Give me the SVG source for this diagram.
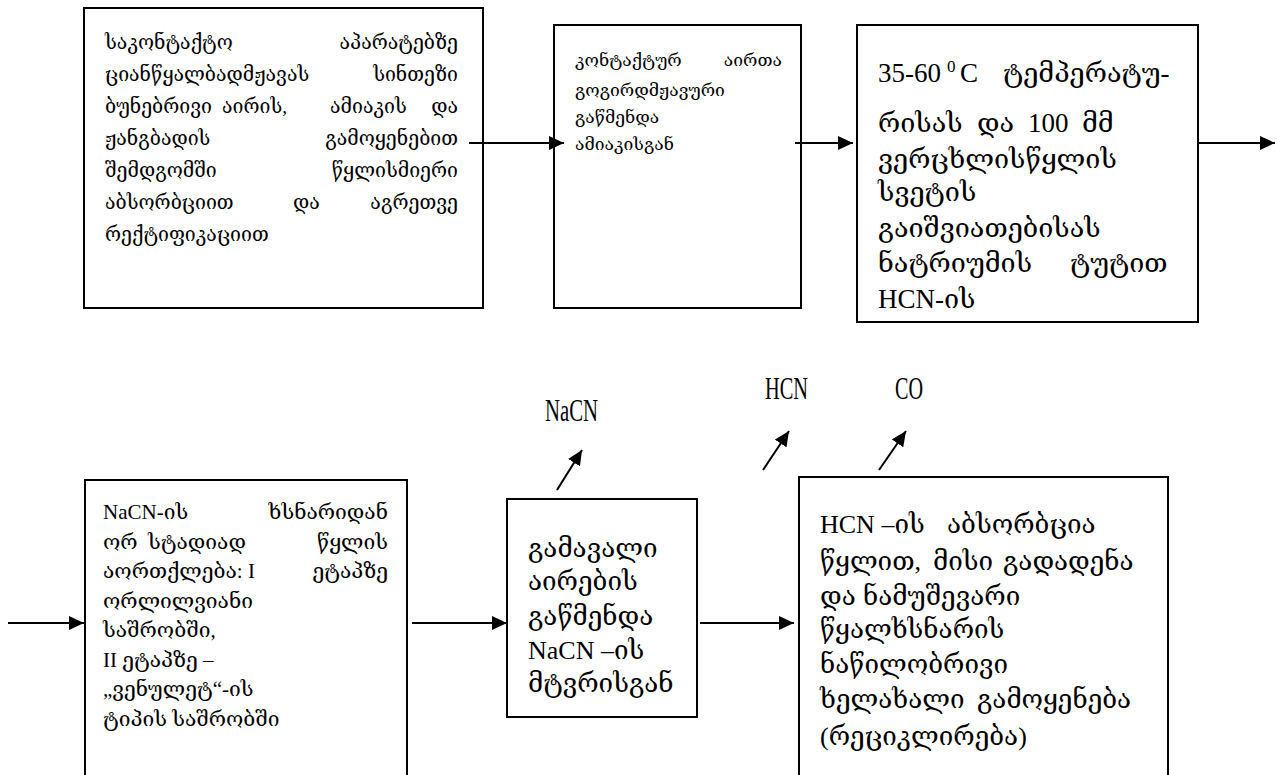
<svg xmlns="http://www.w3.org/2000/svg" width="1277" height="775" viewBox="0 0 1277 775">
<style>
.box{fill:#fff;stroke:#000;stroke-width:2}
.t{font-family:"Liberation Serif","DejaVu Serif",serif;fill:#000}
.lab{font-family:"Liberation Serif",serif;font-size:32px;fill:#000}
.c{stroke:#000;stroke-width:2;fill:none;marker-end:url(#ah)}
</style>
<defs>
<marker id="ah" markerUnits="userSpaceOnUse" markerWidth="16" markerHeight="14" refX="15" refY="7" orient="auto">
<path d="M0,0 L15,7 L0,14 Z" fill="#000"/>
</marker>
</defs>
<g id="n1">
<rect class="box" x="84" y="8" width="399" height="300"/>
<g class="t" font-size="19.5">
<text x="105" y="49">საკონტაქტო</text><text x="458" y="49" text-anchor="end">აპარატებზე</text>
<text x="105" y="81">ციანწყალბადმჟავას</text><text x="458" y="81" text-anchor="end">სინთეზი</text>
<text x="105" y="113">ბუნებრივი</text><text x="222" y="113">აირის,</text><text x="330" y="113">ამიაკის</text><text x="458" y="113" text-anchor="end">და</text>
<text x="105" y="145">ჟანგბადის</text><text x="458" y="145" text-anchor="end">გამოყენებით</text>
<text x="105" y="177">შემდგომში</text><text x="458" y="177" text-anchor="end">წყლისმიერი</text>
<text x="105" y="209">აბსორბციით</text><text x="293" y="209">და</text><text x="458" y="209" text-anchor="end">აგრეთვე</text>
<text x="105" y="241">რექტიფიკაციით</text>
</g>
</g>
<g id="n2">
<rect class="box" x="554" y="25" width="247" height="283"/>
<g class="t" font-size="17.5">
<text x="575" y="66">კონტაქტურ</text><text x="782" y="66" text-anchor="end">აირთა</text>
<text x="575" y="96">გოგირდმჟავური</text>
<text x="575" y="123">გაწმენდა</text>
<text x="575" y="150">ამიაკისგან</text>
</g>
</g>
<g id="n3">
<rect class="box" x="857" y="25" width="341" height="297"/>
<g class="t" font-size="27">
<text x="878" y="82">35-60</text><text x="947" y="72" font-size="17">0</text><text x="960" y="82">C</text><text x="1003" y="82">ტემპერატუ-</text>
<text x="878" y="132">რისას</text><text x="977" y="132">და</text><text x="1028" y="132">100</text><text x="1082" y="132">მმ</text>
<text x="878" y="168">ვერცხლისწყლის</text>
<text x="878" y="201">სვეტის</text>
<text x="878" y="237">გაიშვიათებისას</text>
<text x="878" y="272">ნატრიუმის</text><text x="1070" y="272">ტუტით</text>
<text x="878" y="308">HCN-ის</text>
</g>
</g>
<g id="n4">
<rect class="box" x="85" y="480" width="322" height="310"/>
<g class="t" font-size="21">
<text x="103" y="519">NaCN-ის</text><text x="388" y="519" text-anchor="end">ხსნარიდან</text>
<text x="103" y="549">ორ</text><text x="148" y="549">სტადიად</text><text x="388" y="549" text-anchor="end">წყლის</text>
<text x="103" y="578">აორთქლება:</text><text x="248" y="578">I</text><text x="388" y="578" text-anchor="end">ეტაპზე</text>
<text x="103" y="608">ორლილვიანი</text>
<text x="103" y="637">საშრობში,</text>
<text x="103" y="667">II ეტაპზე –</text>
<text x="103" y="696">„ვენულეტ“-ის</text>
<text x="103" y="726">ტიპის საშრობში</text>
</g>
</g>
<g id="n5">
<rect class="box" x="507" y="499" width="190" height="218"/>
<g class="t" font-size="26">
<text x="528" y="557">გამავალი</text>
<text x="528" y="590">აირების</text>
<text x="528" y="625">გაწმენდა</text>
<text x="528" y="659">NaCN –ის</text>
<text x="528" y="692">მტვრისგან</text>
</g>
</g>
<g id="n6">
<rect class="box" x="799" y="477" width="369" height="313"/>
<g class="t" font-size="26">
<text x="820" y="533">HCN –ის</text><text x="947" y="533">აბსორბცია</text>
<text x="820" y="570">წყლით,</text><text x="933" y="570">მისი</text><text x="1003" y="570">გადადენა</text>
<text x="820" y="605">და</text><text x="863" y="605">ნამუშევარი</text>
<text x="820" y="638">წყალხსნარის</text>
<text x="820" y="673">ნაწილობრივი</text>
<text x="820" y="708">ხელახალი</text><text x="977" y="708">გამოყენება</text>
<text x="820" y="745">(რეციკლირება)</text>
</g>
</g>
<g id="labels">
<text class="lab" x="545" y="421" textLength="53" lengthAdjust="spacingAndGlyphs">NaCN</text>
<text class="lab" x="765" y="399" textLength="43" lengthAdjust="spacingAndGlyphs">HCN</text>
<text class="lab" x="895" y="399" textLength="28" lengthAdjust="spacingAndGlyphs">CO</text>
</g>
<g id="connectors">
<line class="c" x1="469" y1="143" x2="564" y2="143"/>
<line class="c" x1="795" y1="143" x2="853" y2="143"/>
<line class="c" x1="1198" y1="143" x2="1275" y2="143"/>
<line class="c" x1="8" y1="623" x2="84" y2="623"/>
<line class="c" x1="412" y1="623" x2="507" y2="623"/>
<line class="c" x1="700" y1="623" x2="794" y2="623"/>
<line class="c" x1="557" y1="490" x2="582" y2="450"/>
<line class="c" x1="763" y1="470" x2="789" y2="431"/>
<line class="c" x1="879" y1="470" x2="906" y2="431"/>
</g>
</svg>
